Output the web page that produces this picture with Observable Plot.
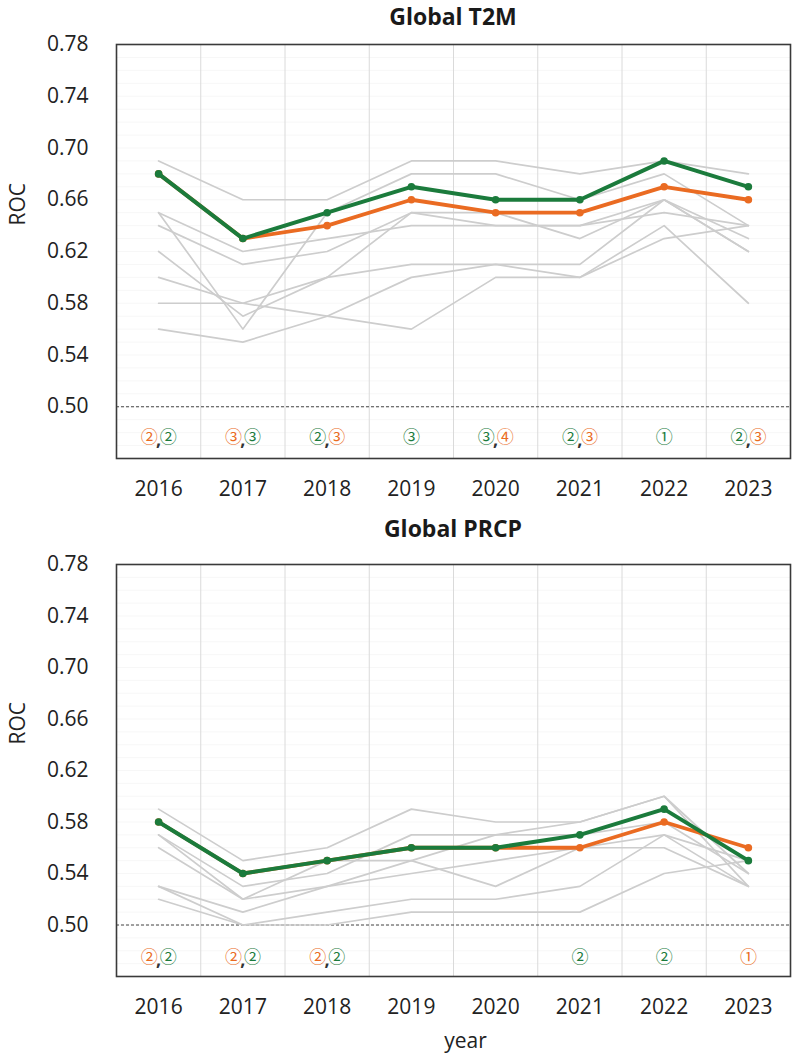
<!DOCTYPE html>
<html>
<head>
<meta charset="utf-8">
<script src="https://cdn.jsdelivr.net/npm/d3@7"></script>
<script src="https://cdn.jsdelivr.net/npm/@observablehq/plot@0.6"></script>
<style>
  html, body { margin: 0; padding: 0; background: #fff; }
  #wrap { width: 800px; height: 1061px; position: relative; overflow: hidden; }
  .title { box-sizing: border-box; width: 800px; padding-left: 106px; text-align: center;
           font-family: "Open Sans", "Noto Sans", sans-serif; font-weight: 700; font-size: 23px; color: #1a1a1a; }
  svg { display: block; }
</style>
</head>
<body>
<div id="wrap">
  <div class="title" style="height:30px;padding-top:4px;line-height:24px;">Global T2M</div>
  <div id="p1"></div>
  <div class="title" style="height:40px;line-height:46px;">Global PRCP</div>
  <div id="p2"></div>
</div>
<script>
// ---------------- data ----------------
const years = [2016, 2017, 2018, 2019, 2020, 2021, 2022, 2023];
const yTicks = [0.50, 0.54, 0.58, 0.62, 0.66, 0.70, 0.74, 0.78];

// Global T2M
const t2mGreen  = [0.68, 0.63, 0.65, 0.67, 0.66, 0.66, 0.69, 0.67];
const t2mOrange = [0.68, 0.63, 0.64, 0.66, 0.65, 0.65, 0.67, 0.66];
const t2mOthers = [
  [0.69, 0.66, 0.66, 0.69, 0.69, 0.68, 0.69, 0.68],
  [0.65, 0.62, 0.63, 0.64, 0.64, 0.64, 0.66, 0.63],
  [0.65, 0.56, 0.65, 0.68, 0.68, 0.66, 0.68, 0.64],
  [0.64, 0.61, 0.62, 0.65, 0.65, 0.63, 0.66, 0.62],
  [0.62, 0.57, 0.60, 0.61, 0.61, 0.61, 0.66, 0.62],
  [0.60, 0.58, 0.60, 0.65, 0.64, 0.64, 0.65, 0.64],
  [0.58, 0.58, 0.57, 0.56, 0.60, 0.60, 0.64, 0.58],
  [0.56, 0.55, 0.57, 0.60, 0.61, 0.60, 0.63, 0.64]
];
// rank annotations: [year, model, rank, model, rank]  (A = green, B = orange)
const t2mRanks = [
  [2016, "B", 2, "A", 2],
  [2017, "B", 3, "A", 3],
  [2018, "A", 2, "B", 3],
  [2019, "A", 3],
  [2020, "A", 3, "B", 4],
  [2021, "A", 2, "B", 3],
  [2022, "A", 1],
  [2023, "A", 2, "B", 3]
];

// Global PRCP
const prcpGreen  = [0.58, 0.54, 0.55, 0.56, 0.56, 0.57, 0.59, 0.55];
const prcpOrange = [0.58, 0.54, 0.55, 0.56, 0.56, 0.56, 0.58, 0.56];
const prcpOthers = [
  [0.59, 0.55, 0.56, 0.59, 0.58, 0.58, 0.60, 0.54],
  [0.57, 0.53, 0.54, 0.57, 0.57, 0.58, 0.60, 0.53],
  [0.57, 0.52, 0.55, 0.55, 0.57, 0.57, 0.58, 0.54],
  [0.56, 0.52, 0.53, 0.54, 0.55, 0.56, 0.57, 0.55],
  [0.53, 0.51, 0.53, 0.55, 0.53, 0.56, 0.56, 0.53],
  [0.52, 0.50, 0.51, 0.52, 0.52, 0.53, 0.57, 0.53],
  [0.53, 0.50, 0.50, 0.51, 0.51, 0.51, 0.54, 0.55]
];
const prcpRanks = [
  [2016, "B", 2, "A", 2],
  [2017, "B", 2, "A", 2],
  [2018, "B", 2, "A", 2],
  [2021, "A", 2],
  [2022, "A", 2],
  [2023, "B", 1]
];

// ---------------- styling ----------------
const GREEN = "#1b7b3c";
const ORANGE = "#ea6b22";
const GRAY = "#cdcdcd";
const FONT = "'Open Sans', 'Noto Sans', sans-serif";
const CJK = "'Noto Sans CJK KR', 'Noto Sans CJK SC', sans-serif";

const circ = r => String.fromCharCode(0x245F + r);

function panel({green, orange, others, ranks, marginTop, marginBottom, height, annDy, xlabel}) {
  const main = [
    ...years.map((year, i) => ({year, value: orange[i], model: "B"})),
    ...years.map((year, i) => ({year, value: green[i], model: "A"}))
  ];
  const rest = others.flatMap((s, k) => years.map((year, i) => ({year, value: s[i], id: k})));
  const ann = ranks.map(([year, m1, r1, m2, r2]) => ({year, m1, s1: circ(r1), m2, s2: r2 ? circ(r2) : null}));
  const pairs = ann.filter(d => d.s2);
  const singles = ann.filter(d => !d.s2);
  const minor = d3.range(0.47, 0.7801, 0.01);
  const annCommon = {x: "year", frameAnchor: "bottom", dy: annDy, fontFamily: CJK, fontSize: 17};

  const marks = [
    Plot.ruleY(minor, {stroke: "#f7f7f7", strokeWidth: 1}),
    Plot.ruleX(years.slice(1), {x: d => d - 0.5, stroke: "#dadada", strokeWidth: 1}),
    Plot.ruleY([0.5], {stroke: "#444", strokeWidth: 1, strokeDasharray: "3,2"}),
    Plot.line(rest, {x: "year", y: "value", z: "id", stroke: GRAY, strokeWidth: 1.7}),
    Plot.line(main.filter(d => d.model === "B"), {x: "year", y: "value", stroke: "model", strokeWidth: 3.8}),
    Plot.dot(main.filter(d => d.model === "B"), {x: "year", y: "value", fill: "model", r: 3.8}),
    Plot.line(main.filter(d => d.model === "A"), {x: "year", y: "value", stroke: "model", strokeWidth: 4}),
    Plot.dot(main.filter(d => d.model === "A"), {x: "year", y: "value", fill: "model", r: 3.8}),
    Plot.text(pairs, {...annCommon, text: "s1", fill: "m1", textAnchor: "end", dx: -1}),
    Plot.text(pairs, {...annCommon, text: () => ",", fill: "#333", textAnchor: "middle", dx: 0, dy: annDy + 3, fontFamily: FONT, fontSize: 18, fontWeight: 700}),
    Plot.text(pairs, {...annCommon, text: "s2", fill: "m2", textAnchor: "start", dx: 1}),
    Plot.text(singles, {...annCommon, text: "s1", fill: "m1", textAnchor: "middle"}),
    Plot.text(["ROC"], {frameAnchor: "left", dx: -98, dy: -26, rotate: -90, fontSize: 21, fontFamily: FONT, fill: "#222"}),
    Plot.frame({stroke: "#3a3a3a", strokeWidth: 1.6})
  ];
  if (xlabel) marks.push(Plot.text([xlabel], {frameAnchor: "bottom", dx: 12, dy: 71, fontSize: 21, fontFamily: FONT, fill: "#222"}));

  return Plot.plot({
    width: 800,
    height,
    marginLeft: 116,
    marginRight: 10,
    marginTop,
    marginBottom,
    style: {fontFamily: FONT, fontSize: "21px", color: "#222", background: "white", overflow: "visible"},
    x: {type: "linear", domain: [2015.5, 2023.5], ticks: years, tickFormat: "d", tickSize: 0, tickPadding: 23, label: null},
    y: {domain: [0.46, 0.78], ticks: yTicks, tickFormat: ".2f", tickSize: 0, tickPadding: 28, label: null},
    color: {domain: ["A", "B"], range: [GREEN, ORANGE]},
    marks
  });
}

document.getElementById("p1").append(panel({
  green: t2mGreen, orange: t2mOrange, others: t2mOthers, ranks: t2mRanks,
  marginTop: 14, marginBottom: 47, height: 475, annDy: -16
}));
document.getElementById("p2").append(panel({
  green: prcpGreen, orange: prcpOrange, others: prcpOthers, ranks: prcpRanks,
  marginTop: 19, marginBottom: 85, height: 516, annDy: -14, xlabel: "year"
}));
</script>
</body>
</html>
